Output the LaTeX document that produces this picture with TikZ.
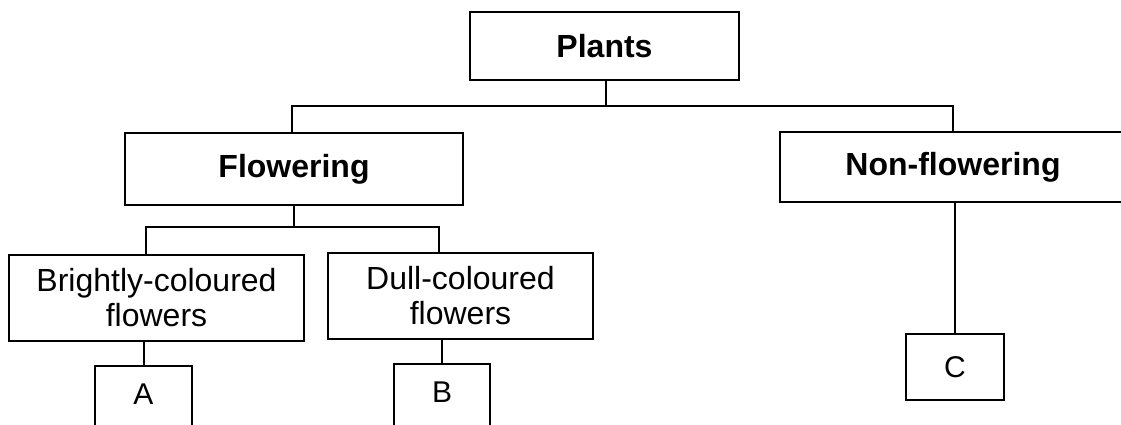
\documentclass[tikz,border=0pt]{standalone}
\usepackage{fontspec}
\setmainfont{Liberation Sans}
\begin{document}
\begin{tikzpicture}[x=1pt,y=-1pt,
  box/.style={draw=black, line width=2pt, inner sep=0pt, align=center,
    font=\fontsize{32}{35}\selectfont},
  topbox/.style={box, font=\fontsize{32}{35}\selectfont\bfseries},
  leafbox/.style={box, anchor=north, text height=21pt, text depth=40pt, inner ysep=17pt,
    font=\fontsize{30}{32}\selectfont},
  conn/.style={draw=black, line width=2pt}]
\useasboundingbox (0,0) rectangle (1121,425);
\clip (0,0) rectangle (1121,425);
\node[topbox, minimum width=269pt, minimum height=68pt] (Plants) at (604.5,46) {Plants};
\node[topbox, minimum width=338pt, minimum height=72pt] (Flowering) at (294,169) {Flowering};
\node[topbox, minimum width=346pt, minimum height=70pt] (Nonflowering) at (953,167) {Non-flowering};
\node[box, minimum width=295pt, minimum height=86pt] (Brightly) at (156.5,298) {Brightly-coloured\\flowers};
\node[box, minimum width=265pt, minimum height=86pt] (Dull) at (460.5,296) {Dull-coloured\\flowers};
\node[leafbox, minimum width=97pt] (A) at (143.5,365) {A};
\node[leafbox, minimum width=96pt] (B) at (442,363) {B};
\node[box, minimum width=98pt, minimum height=66pt, font=\fontsize{30}{32}\selectfont] (C) at (955,367) {C};
\coordinate (j1) at (606,106);
\coordinate (f1) at (146,227);
\coordinate (f2) at (439,227);
\draw[conn] (Plants.south -| j1) -- (j1);
\draw[conn] (Flowering.north -| 292,0) |- (j1) -| (Nonflowering.north);
\draw[conn] (Flowering.south) -- (Flowering.south |- f1);
\draw[conn] (f1 |- Brightly.north) -- (f1) -- (f2) -- (f2 |- Dull.north);
\draw[conn] (Brightly.south -| A.north) -- (A.north);
\draw[conn] (Dull.south -| B.north) -- (B.north);
\draw[conn] (Nonflowering.south -| C.north) -- (C.north);
\end{tikzpicture}
\end{document}
